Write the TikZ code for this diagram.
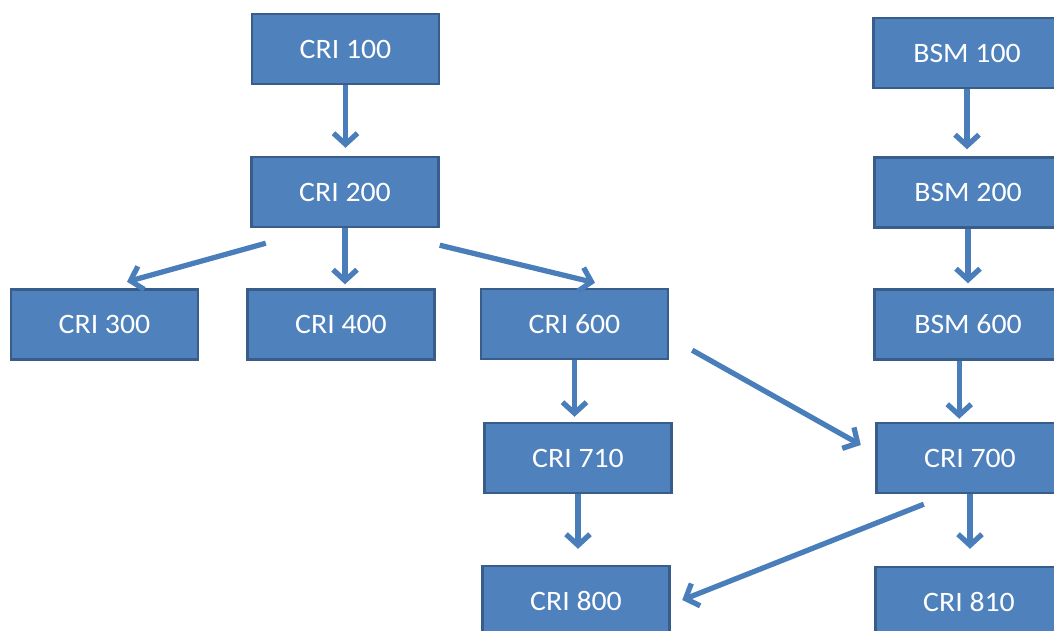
\documentclass[tikz,border=0pt]{standalone}
\usepackage{fontspec}
\setmainfont{Carlito}[FakeStretch=1.06]
\usetikzlibrary{arrows.meta}

\definecolor{boxfill}{HTML}{4F81BD}
\definecolor{boxline}{HTML}{385D8A}
\definecolor{linkcol}{HTML}{4A7EBB}

\begin{document}
\begin{tikzpicture}[x=0.02cm,y=-0.02cm,
    course/.style={draw=boxline,line width=1.4pt,fill=boxfill,text=white,
      minimum width=3.74cm,minimum height=1.4cm,inner sep=0pt,
      font=\fontsize{16}{19}\selectfont},
    link/.style={draw=linkcol,line width=3pt,
      -{Straight Barb[length=0.22cm,width=0.48cm]}}]
	\useasboundingbox (0,0) rectangle (1054,631);
	\clip (0,0) rectangle (1054,631);

            % left tree
            \node[course] (cri100) at (345.5,49) {CRI 100};
            \node[course] (cri200) at (345,192) {CRI 200};
            \node[course] (cri300) at (104.5,324.5) {CRI 300};
            \node[course] (cri400) at (341,324.5) {CRI 400};
            \node[course] (cri600) at (574.5,324) {CRI 600};
            \node[course] (cri710) at (578,458) {CRI 710};
            \node[course] (cri800) at (576,601) {CRI 800};

            % right column
            \node[course] (bsm100) at (967,53) {BSM 100};
            \node[course] (bsm200) at (968,192.5) {BSM 200};
            \node[course] (bsm600) at (968,324.5) {BSM 600};
            \node[course] (cri700) at (970,458) {CRI 700};
            \node[course] (cri810) at (969,602) {CRI 810};

            \draw[link,shorten >=0.16cm] (cri100.south) -- (cri100.south |- cri200.north);
            \draw[link,shorten >=0.08cm] (cri200.south) -- (cri200.south |- cri400.north);
            \draw[link,shorten >=0.1cm] (cri600.south) -- (cri600.south |- cri710.north);
            \draw[link,shorten >=0.32cm] (cri710.south) -- (cri710.south |- cri800.north);

            \draw[link,shorten >=0.14cm] (bsm100.south) -- (bsm100.south |- bsm200.north);
            \draw[link,shorten >=0.1cm] (bsm200.south) -- (bsm200.south |- bsm600.north);
            \draw[link,shorten >=0.06cm] ([xshift=-5]bsm600.south) -- ([xshift=-5]bsm600.south |- cri700.north);
            \draw[link,shorten >=0.34cm] (cri700.south) -- (cri700.south |- cri810.north);

            \draw[link] ([shift={(15.5,15)}]cri200.south west) -- ([shift={(22.5,-6.5)}]cri300.north);
            \draw[link] ([shift={(0,17)}]cri200.south east) -- ([shift={(20.5,-5)}]cri600.north);
            \draw[link] ([shift={(23,-10)}]cri600.south east) -- ([shift={(-14.5,-13)}]cri700.west);
            \draw[link] ([shift={(48.5,10)}]cri700.south west) -- ([shift={(11.5,-1)}]cri800.east);
        \end{tikzpicture}
\end{document}
